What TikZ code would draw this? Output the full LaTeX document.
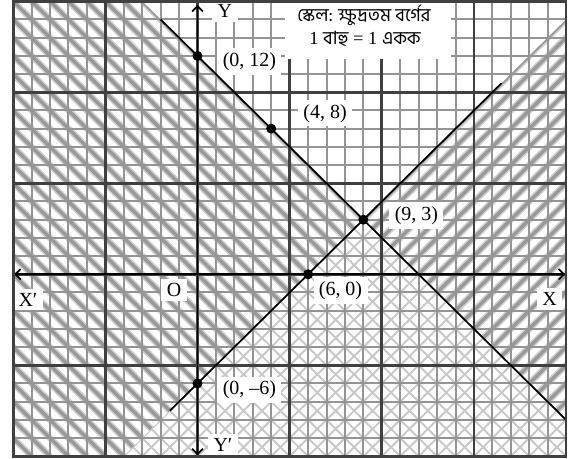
\documentclass[tikz,border=0pt]{standalone}
\usepackage{fontspec}
\setmainfont{Liberation Serif}
\newfontfamily\bn[Script=Bengali]{Hind Siliguri}
\usetikzlibrary{arrows.meta}
\begin{document}
\begin{tikzpicture}[x=13.8225pt,y=13.65pt,
  minorline/.style={black!42,line width=1.5pt},
  majorline/.style={black!75,line width=2pt},
  stripeouter/.style={black!18,line width=5pt},
  stripeinner/.style={black!40,line width=2.6pt},
  thinstripe/.style={black!22,line width=1.4pt},
  graphline/.style={black,line width=1.3pt},
  axisline/.style={black,line width=1.3pt,{Straight Barb[length=4pt,width=8pt]}-{Straight Barb[length=4pt,width=8pt]}},
  lbl/.style={fill=white,inner xsep=4pt,inner ysep=3pt,font=\fontsize{15}{18}\selectfont},
  dotnode/.style={circle,fill=black,inner sep=0pt,minimum size=7.5pt},
  bntext/.style={font=\fontsize{13.8}{16}\selectfont,inner sep=0pt,text height=9pt,text depth=2pt}]
\useasboundingbox (-10.716,-10.148) rectangle (20.266,15.07);
% hatching: region A (\ stripes)
\begin{scope}
  \clip (-10,15) -- (-3,15) -- (9,3) -- (-4,-10) -- (-10,-10) -- cycle;
  \foreach \c in {-20,...,12} {
    \draw[stripeouter] ({\c-15},15) -- ({\c+10},-10);
    \draw[stripeinner] ({\c-15},15) -- ({\c+10},-10);}
\end{scope}
% region C (/ stripes)
\begin{scope}
  \clip (9,3) -- (20,14) -- (20,-8) -- cycle;
  \foreach \c in {6,...,30} {
    \draw[stripeouter] ({\c-10},-10) -- ({\c+15},15);
    \draw[stripeinner] ({\c-10},-10) -- ({\c+15},15);}
\end{scope}
% region D (cross hatch)
\begin{scope}
  \clip (9,3) -- (20,-8) -- (20,-10) -- (-4,-10) -- cycle;
  \foreach \c in {-14,...,12} \draw[thinstripe] ({\c-15},15) -- ({\c+10},-10);
  \foreach \c in {6,...,30} \draw[thinstripe] ({\c-10},-10) -- ({\c+15},15);
\end{scope}
% grid
\foreach \i in {-10,...,20} \draw[minorline] (\i,-10) -- (\i,15);
\foreach \j in {-10,...,15} \draw[minorline] (-10,\j) -- (20,\j);
\foreach \i in {-10,-5,...,20} \draw[majorline] (\i,-10) -- (\i,15);
\foreach \j in {-10,-5,...,15} \draw[majorline] (-10,\j) -- (20,\j);
% scale box
\node[fill=white,inner sep=0pt,minimum width=125pt,minimum height=44pt] (scalebox) at (9.25,13.45) {};
\node[bntext] (scaleA) at (9.03,14.14) {\bn স্কেল: ক্ষুদ্রতম বর্গের};
\node[bntext] (scaleB) at (9.09,12.86) {1 {\bn বাহু} = 1 {\bn একক}};
% labels
\node[lbl] (lY) at (1.49,14.45) {Y};
\node[lbl] (lYp) at (1.38,-9.38) {Y′};
\node[lbl] (lX) at (19.10,-1.36) {X};
\node[lbl] (lXp) at (-9.20,-1.41) {X′};
\node[lbl] (lO) at (-1.275,-0.86) {O};
\node[lbl] (l012) at (2.82,11.69) {(0, 12)};
\node[lbl] (l48) at (6.92,8.84) {(4, 8)};
\node[lbl] (l93) at (11.88,3.23) {(9, 3)};
\node[lbl] (l60) at (7.76,-0.89) {(6, 0)};
\node[lbl] (l06) at (2.82,-6.36) {(0, –6)};
% axes
\coordinate (xl) at (-9.95,0);
\coordinate (xr) at (19.95,0);
\coordinate (yb) at (0,-9.95);
\coordinate (yt) at (0,14.8);
\draw[axisline] (xl) -- (xr);
\draw[axisline] (yb) -- (yt);
% graph lines
\coordinate (a1) at (-2,14);
\coordinate (a2) at (20,-8);
\coordinate (b1) at (-1.5,-7.5);
\coordinate (b2) at (16.5,10.5);
\draw[graphline] (a1) -- (a2);
\draw[graphline] (b1) -- (b2);
% points
\node[dotnode] (p012) at (0,12) {};
\node[dotnode] (p48) at (4,8) {};
\node[dotnode] (p93) at (9,3) {};
\node[dotnode] (p60) at (6,0) {};
\node[dotnode] (p06) at (0,-6) {};
% frame
\draw[majorline] (-10,-10) rectangle (20,15);
\end{tikzpicture}
\end{document}
